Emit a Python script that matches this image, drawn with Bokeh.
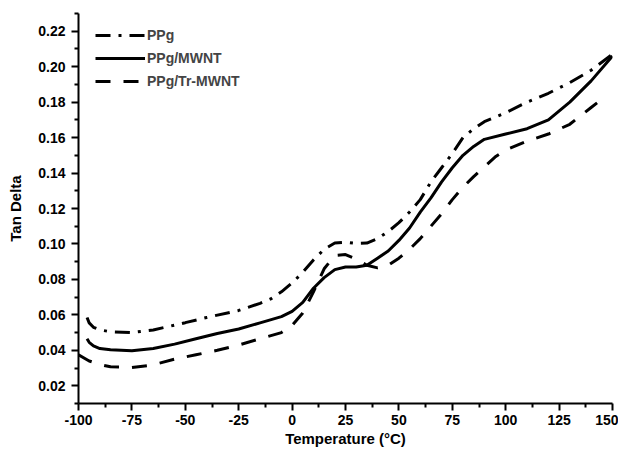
from bokeh.plotting import figure
from bokeh.models import FixedTicker, PrintfTickFormatter, Range1d, Legend, LegendItem
from bokeh.embed import file_html
from bokeh.resources import INLINE

# Temperature (°C) and tan delta values
t_ppg = [-96, -95, -93, -90, -85, -75, -65, -50, -40, -25, -15, -10, -5, 0, 5, 10, 15, 20, 25, 30, 35, 40, 45,
         50, 55, 60, 65, 70, 75, 80, 85, 90, 100, 110, 120, 130, 140, 150]
v_ppg = [0.0585, 0.0555, 0.053, 0.0515, 0.0505, 0.0500, 0.0515, 0.0556, 0.0585, 0.0625, 0.0665, 0.069, 0.073,
         0.078, 0.084, 0.091, 0.097, 0.1005, 0.101, 0.1003, 0.1005, 0.103, 0.107, 0.112, 0.118, 0.125, 0.135,
         0.143, 0.151, 0.160, 0.165, 0.169, 0.174, 0.180, 0.185, 0.191, 0.198, 0.207]

t_mwnt = [-96, -95, -93, -90, -85, -75, -65, -55, -45, -35, -25, -15, -5, 0, 5, 10, 15, 20, 25, 30, 35, 40, 45,
          50, 55, 60, 65, 70, 75, 80, 85, 90, 100, 110, 120, 130, 140, 150]
v_mwnt = [0.0465, 0.0445, 0.0425, 0.041, 0.0403, 0.0397, 0.041, 0.0435, 0.0465, 0.0495, 0.052, 0.0555, 0.059,
          0.062, 0.067, 0.075, 0.081, 0.0855, 0.087, 0.087, 0.088, 0.092, 0.096, 0.102, 0.109, 0.118, 0.126,
          0.135, 0.143, 0.150, 0.155, 0.159, 0.162, 0.165, 0.170, 0.180, 0.192, 0.206]

t_tr = [-100, -95, -90, -85, -75, -65, -55, -45, -35, -25, -15, -5, 0, 5, 10, 15, 20, 25, 30, 35, 40, 45, 50, 55,
        60, 65, 70, 75, 80, 85, 90, 95, 100, 110, 120, 130, 140, 147]
v_tr = [0.0375, 0.034, 0.032, 0.0307, 0.0303, 0.0318, 0.035, 0.0375, 0.040, 0.043, 0.0465, 0.050, 0.054, 0.061,
        0.073, 0.086, 0.0935, 0.094, 0.0915, 0.088, 0.0865, 0.088, 0.092, 0.097, 0.103, 0.110, 0.117, 0.125,
        0.132, 0.138, 0.1435, 0.149, 0.153, 0.158, 0.162, 0.1675, 0.177, 0.1835]

x_ticks = [-100, -75, -50, -25, 0, 25, 50, 75, 100, 125, 150]
y_ticks = [0.02, 0.04, 0.06, 0.08, 0.10, 0.12, 0.14, 0.16, 0.18, 0.20, 0.22]
labels = ["PPg", "PPg/MWNT", "PPg/Tr-MWNT"]

FONT = "Liberation Sans"

p = figure(width=618, height=451, output_backend="svg", toolbar_location=None,
           x_range=Range1d(-100, 150), y_range=Range1d(0.01, 0.23),
           min_border_left=78, min_border_right=6, min_border_top=13, min_border_bottom=48)
p.outline_line_color = None
p.xgrid.visible = False
p.ygrid.visible = False
p.background_fill_color = "white"
p.border_fill_color = "white"

r1 = p.line(t_ppg, v_ppg, line_color="black", line_width=3, line_dash="15 8 3 8")
r2 = p.line(t_mwnt, v_mwnt, line_color="black", line_width=3)
r3 = p.line(t_tr, v_tr, line_color="black", line_width=3, line_dash="15 13")

x_minor = [x + 12.5 for x in x_ticks[:-1]]
y_minor = [0.01] + [y + 0.01 for y in y_ticks]
p.xaxis.ticker = FixedTicker(ticks=x_ticks, minor_ticks=x_minor)
p.yaxis.ticker = FixedTicker(ticks=y_ticks, minor_ticks=y_minor)
p.yaxis.formatter = PrintfTickFormatter(format="%.2f")
p.xaxis.major_label_overrides = {t: str(t) for t in x_ticks}

for ax in (p.xaxis[0], p.yaxis[0]):
    ax.axis_line_width = 2
    ax.major_tick_line_width = 2
    ax.minor_tick_line_width = 2
    ax.major_tick_out = 7
    ax.major_tick_in = 0
    ax.minor_tick_out = 4
    ax.minor_tick_in = 0
    ax.major_label_text_font = FONT
    ax.major_label_text_font_style = "bold"
    ax.major_label_text_font_size = "14px"
    ax.major_label_text_color = "black"
    ax.axis_label_text_font = FONT
    ax.axis_label_text_font_style = "bold"
    ax.axis_label_text_font_size = "15px"
    ax.axis_label_text_color = "black"

p.xaxis.axis_label = "Temperature (°C)"
p.yaxis.axis_label = "Tan Delta"
p.xaxis.major_label_standoff = 4
p.xaxis.axis_label_standoff = 2
p.yaxis.major_label_standoff = 6
p.yaxis.axis_label_standoff = 11

legend = Legend(items=[LegendItem(label=l, renderers=[r]) for l, r in zip(labels, [r1, r2, r3])],
                location=(17, 312), border_line_color=None, background_fill_alpha=0,
                padding=0, margin=0, spacing=3, glyph_width=50, glyph_height=20, label_standoff=2,
                label_text_font=FONT, label_text_font_style="bold", label_text_font_size="14px")
p.add_layout(legend)

open("out.html", "w").write(file_html(p, INLINE))
